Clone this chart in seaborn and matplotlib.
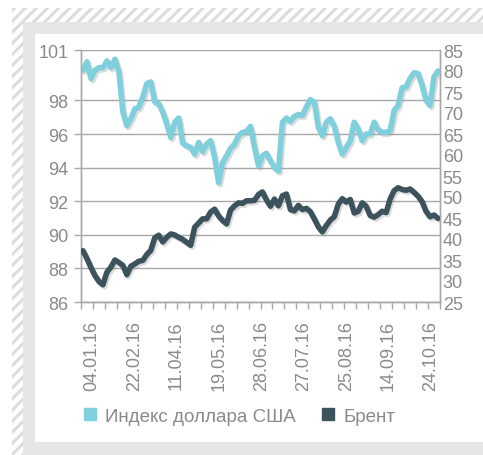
import numpy as np
import pandas as pd
import matplotlib
matplotlib.use("Agg")
import matplotlib.pyplot as plt
import matplotlib.patheffects as pe
from matplotlib.patches import Rectangle
from matplotlib.lines import Line2D
from matplotlib.ticker import FixedLocator
import seaborn as sns

dollar_index = [
    99.8, 100.3, 99.3, 99.8, 99.95, 99.95, 100.35, 99.95, 100.45, 99.7,
    97.3, 96.5, 96.9, 97.5, 97.6, 98.2, 99.0, 99.1, 97.9, 97.8,
    97.3, 96.6, 95.8, 96.7, 96.95, 95.45, 95.3, 95.2, 94.8, 95.5,
    94.95, 95.4, 95.6, 94.6, 93.1, 94.3, 94.7, 95.15, 95.4, 95.9,
    96.1, 96.15, 96.45, 95.2, 94.1, 94.7, 94.85, 94.4, 94.0, 93.8,
    96.7, 96.95, 96.75, 97.05, 97.15, 97.1, 97.6, 98.05, 97.9, 96.4,
    95.9, 96.7, 96.9, 96.45, 95.5, 94.8, 95.2, 95.6, 96.7, 96.3,
    95.6, 96.0, 96.0, 96.7, 96.25, 96.1, 96.1, 96.2, 97.4, 97.7,
    98.75, 98.8, 99.3, 99.65, 99.6, 98.9, 98.0, 97.7, 99.4, 99.75,
]
brent = [
    37.2, 35.3, 33.2, 31.3, 29.9, 29.1, 32.1, 33.3, 35.0, 34.4,
    33.7, 31.5, 33.5, 34.05, 34.7, 34.9, 36.3, 37.3, 40.3, 40.9,
    39.3, 40.4, 41.2, 40.95, 40.4, 39.9, 39.2, 38.5, 42.8, 43.8,
    44.8, 44.8, 46.4, 47.1, 45.5, 44.4, 43.6, 46.9, 47.9, 48.6,
    48.5, 49.1, 49.1, 49.2, 50.6, 51.2, 49.3, 47.8, 49.5, 47.9,
    50.3, 50.7, 47.0, 46.7, 48.0, 47.0, 47.3, 46.5, 44.8, 42.9,
    41.7, 43.2, 44.5, 45.3, 48.3, 49.6, 48.8, 49.4, 46.2, 46.6,
    48.6, 47.8, 45.6, 45.2, 45.8, 46.6, 46.3, 49.5, 51.5, 52.2,
    51.8, 51.6, 51.9, 51.1, 50.2, 48.9, 46.6, 45.3, 45.7, 44.9,
]
date_labels = ["04.01.16", "22.02.16", "11.04.16", "19.05.16", "28.06.16",
               "27.07.16", "25.08.16", "14.09.16", "24.10.16"]
left_ticks = [86, 88, 90, 92, 94, 96, 98, 101]
right_ticks = [25, 30, 35, 40, 45, 50, 55, 60, 65, 70, 75, 80, 85]
series_names = ["Индекс доллара США", "Брент"]

# ---- style ----
c_dollar = "#80cfdc"
c_brent = "#3c535d"
c_text = "#8a8a8a"
c_grid = "#a8a8a8"

sns.set_style("white")
plt.rcParams["font.family"] = ["Liberation Sans", "DejaVu Sans"]
plt.rcParams["hatch.linewidth"] = 2.2

W, H = 483, 456
fig = plt.figure(figsize=(W / 100, H / 100), dpi=100, facecolor="white")


def fig_rect(x0, y0, x1, y1, **kw):
    # pixel box -> figure coords
    r = Rectangle((x0 / W, 1 - y1 / H), (x1 - x0) / W, (y1 - y0) / H,
                  transform=fig.transFigure, zorder=-10, **kw)
    fig.add_artist(r)


# frame: hatched strip, grey border, white panel
fig_rect(12, 9, W, H, facecolor="white", edgecolor="#dcdcdc", hatch="///", linewidth=0)
fig_rect(23, 23, W, H, facecolor="#e6e6e6", edgecolor="none")
fig_rect(35, 35, W, 443, facecolor="white", edgecolor="none")

ax = fig.add_axes([81 / W, 1 - 303 / H, (440 - 81) / W, (303 - 51) / H])
ax.patch.set_alpha(0)
ax2 = ax.twinx()

df = pd.DataFrame({"idx": np.arange(len(dollar_index)),
                   "dollar": dollar_index, "brent": brent})

shadow = [pe.SimpleLineShadow(offset=(1.2, -1.5), shadow_color="#777777", alpha=0.25), pe.Normal()]
sns.lineplot(data=df, x="idx", y="dollar", ax=ax, color=c_dollar, linewidth=4,
             path_effects=shadow, zorder=3)
sns.lineplot(data=df, x="idx", y="brent", ax=ax2, color=c_brent, linewidth=4,
             path_effects=shadow, zorder=3)

n = len(df)
ax.set_xlim(-0.5, n - 0.5)
ax.set_ylim(86, 101)
ax2.set_ylim(25, 85)
ax.set_xlabel("")
ax.set_ylabel("")
ax2.set_ylabel("")

# x axis: small tick marks every 3 obs, labels every ~10.6 obs
ax.xaxis.set_minor_locator(FixedLocator(np.arange(-0.5, n, 3)))
ax.set_xticks(2.2 + 10.63 * np.arange(len(date_labels)))
ax.set_xticklabels(date_labels, rotation=90, fontsize=13, color=c_text)
ax.tick_params(axis="x", which="major", length=0, pad=13)
ax.tick_params(axis="x", which="minor", length=5, width=1, color=c_grid, direction="out", bottom=True)

ax.set_yticks(left_ticks)
ax.set_yticklabels([str(t) for t in left_ticks], fontsize=13, color=c_text)
ax.tick_params(axis="y", length=5, width=1, color=c_grid, pad=4, left=True)
ax.grid(axis="y", color=c_grid, linewidth=1)
ax.grid(axis="x", visible=False)
ax.set_axisbelow(True)

ax2.set_yticks(right_ticks)
ax2.set_yticklabels([str(t) for t in right_ticks], fontsize=13, color=c_text)
ax2.tick_params(axis="y", length=0, pad=2)
ax2.grid(False)

for a in (ax, ax2):
    a.spines["top"].set_visible(False)
    for s in ("left", "right", "bottom"):
        a.spines[s].set_color(c_grid)
        a.spines[s].set_linewidth(1)

handles = [Line2D([], [], marker="s", linestyle="none", markersize=9, color=c, label=l)
           for c, l in zip([c_dollar, c_brent], series_names)]
fig.legend(handles=handles, loc="center", bbox_to_anchor=(239 / W, 1 - 417 / H), ncol=2,
           frameon=False, fontsize=13.5, labelcolor=c_text, handletextpad=0.4,
           columnspacing=1.3, handlelength=0.8)

fig.savefig("out.png", dpi=100, facecolor="white")
